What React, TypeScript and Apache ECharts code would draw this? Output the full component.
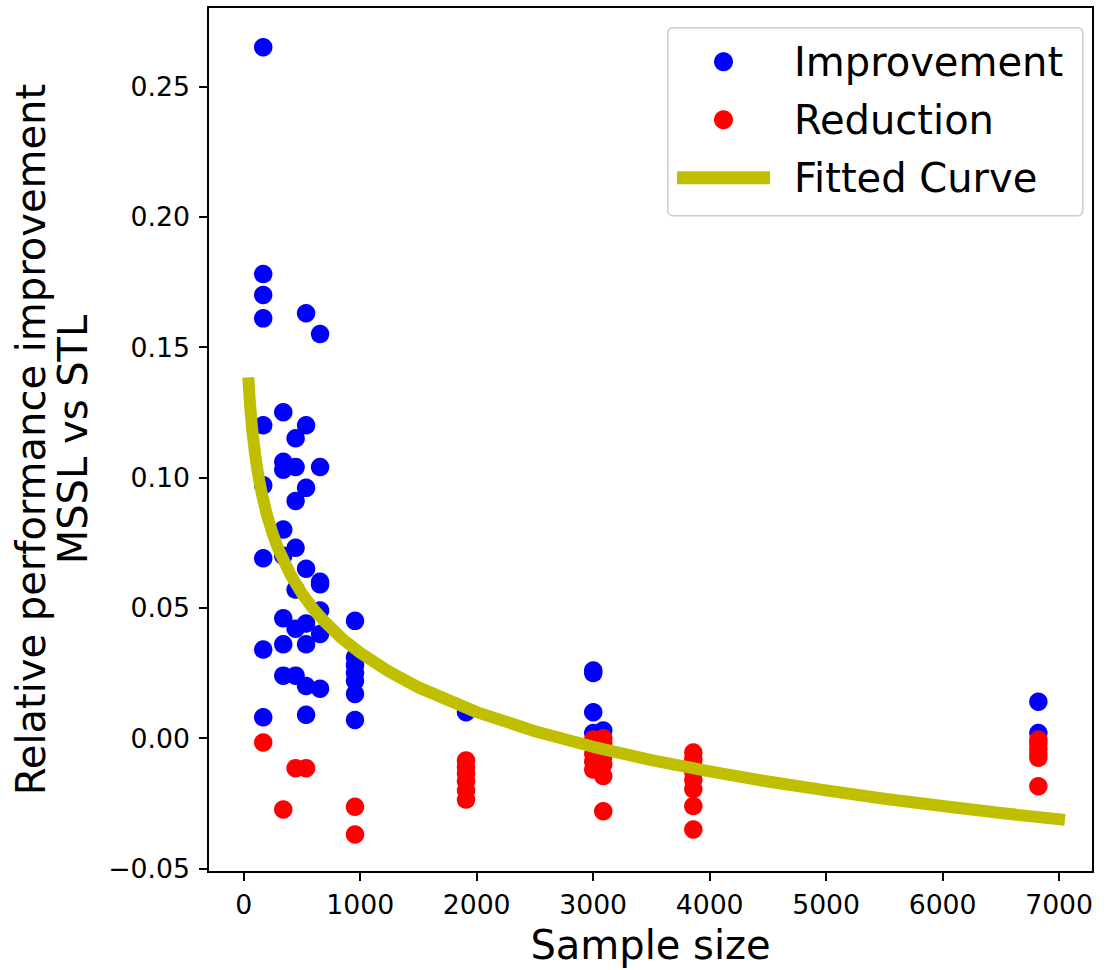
import { useEffect, useRef } from "react";
import * as echarts from "echarts";

// Scatter points: [sample size, relative improvement]
const improvement: [number, number][] = [
  [168, 0.265], [168, 0.178], [168, 0.17], [168, 0.161], [168, 0.12], [168, 0.097], [168, 0.069], [168, 0.034], [168, 0.008],
  [340, 0.125], [340, 0.106], [340, 0.103], [340, 0.08], [340, 0.07], [340, 0.046], [340, 0.036], [340, 0.024],
  [446, 0.115], [446, 0.104], [446, 0.091], [446, 0.073], [446, 0.057], [446, 0.042], [446, 0.024],
  [536, 0.163], [536, 0.12], [536, 0.096], [536, 0.065], [536, 0.044], [536, 0.036], [536, 0.02], [536, 0.009],
  [656, 0.155], [656, 0.104], [656, 0.06], [656, 0.059], [656, 0.049], [656, 0.04], [656, 0.019],
  [956, 0.045], [956, 0.031], [956, 0.028], [956, 0.025], [956, 0.022], [956, 0.017], [956, 0.007],
  [1909, 0.01],
  [3001, 0.026], [3001, 0.025], [3001, 0.01], [3001, 0.002],
  [3087, 0.003],
  [6822, 0.014], [6822, 0.002],
];

const reduction: [number, number][] = [
  [168, -0.0016],
  [340, -0.0273],
  [446, -0.0115],
  [536, -0.0115],
  [956, -0.0263], [956, -0.0369],
  [1909, -0.0085], [1909, -0.011], [1909, -0.0135], [1909, -0.0165], [1909, -0.02], [1909, -0.0235],
  [3001, -0.0005], [3001, -0.003], [3001, -0.006], [3001, -0.009], [3001, -0.012],
  [3087, 0.0], [3087, -0.002], [3087, -0.0045], [3087, -0.007], [3087, -0.01], [3087, -0.0145], [3087, -0.028],
  [3860, -0.0055], [3860, -0.008], [3860, -0.0105], [3860, -0.013], [3860, -0.016], [3860, -0.0195], [3860, -0.026], [3860, -0.035],
  [6822, -0.0005], [6822, -0.002], [6822, -0.004], [6822, -0.006], [6822, -0.0075], [6822, -0.0184],
];

// Fitted curve
const curveX = [40, 50, 60, 70, 80, 100, 120, 140, 160, 200, 250, 300, 400, 500, 600, 700, 850, 1000, 1250, 1500, 2000, 2500, 3000, 3500, 4000, 4500, 5000, 5500, 6000, 6500, 7050];
const curveY = [0.1384, 0.131, 0.1251, 0.12, 0.1157, 0.1084, 0.1024, 0.0973, 0.093, 0.0856, 0.0783, 0.0723, 0.0629, 0.0555, 0.0495, 0.0445, 0.038, 0.0328, 0.0255, 0.0195, 0.01, 0.0027, -0.0033, -0.0084, -0.0127, -0.0166, -0.02, -0.0232, -0.026, -0.0287, -0.0313];

const xTicks = [0, 1000, 2000, 3000, 4000, 5000, 6000, 7000];
const yTicks = [-0.05, 0, 0.05, 0.1, 0.15, 0.2, 0.25];

const FONT = "DejaVu Sans";

export default function App() {
  const ref = useRef<HTMLDivElement>(null);
  useEffect(() => {
    const chart = echarts.init(ref.current!, null, { renderer: "svg" });
    const curve = curveX.map((x, i) => [x, curveY[i]]);
    chart.setOption({
      animation: false,
      backgroundColor: "#ffffff",
      textStyle: { fontFamily: FONT, color: "#000" },
      grid: {
        left: 208,
        top: 7,
        right: 19,
        bottom: 94,
        show: true,
        borderColor: "#000",
        borderWidth: 2,
        backgroundColor: "transparent",
      },
      xAxis: {
        type: "value",
        min: -306,
        max: 7291,
        position: "bottom",
        name: "Sample size",
        nameLocation: "middle",
        nameGap: 53,
        nameTextStyle: { fontSize: 40, color: "#000", fontFamily: FONT, lineHeight: 40 },
        axisLine: { show: false, onZero: false },
        splitLine: { show: false },
        axisTick: { show: true, length: 9, lineStyle: { color: "#000", width: 2 }, customValues: xTicks },
        axisLabel: {
          customValues: xTicks,
          fontSize: 26.7,
          color: "#000",
          fontFamily: FONT,
          margin: 19,
          formatter: (v: number) => String(v),
        },
      },
      yAxis: {
        type: "value",
        min: -0.0513,
        max: 0.2804,
        position: "left",
        name: "Relative performance improvement\nMSSL vs STL",
        nameLocation: "middle",
        nameRotate: 90,
        nameGap: 114,
        nameTextStyle: { fontSize: 40, color: "#000", fontFamily: FONT, lineHeight: 42, align: "center" },
        axisLine: { show: false, onZero: false },
        splitLine: { show: false },
        axisTick: { show: true, length: 9, lineStyle: { color: "#000", width: 2 }, customValues: yTicks },
        axisLabel: {
          customValues: yTicks,
          fontSize: 26.7,
          color: "#000",
          fontFamily: FONT,
          margin: 18,
          formatter: (v: number) => (v < 0 ? "\u2212" + Math.abs(v).toFixed(2) : v.toFixed(2)),
        },
      },
      legend: {
        orient: "vertical",
        left: 677,
        top: 41.7,
        padding: 0,
        itemWidth: 93,
        itemHeight: 19,
        itemGap: 18,
        symbolKeepAspect: true,
        selectedMode: false,
        textStyle: { fontSize: 40, lineHeight: 40, color: "#000", fontFamily: FONT, padding: [0, 0, 0, 19] },
        data: [
          { name: "Improvement", icon: "circle" },
          { name: "Reduction", icon: "circle" },
          { name: "Fitted Curve", icon: "path://M0,0L93,0L93,13L0,13Z" },
        ],
      },
      graphic: [
        {
          type: "rect",
          left: 667,
          top: 27,
          z: 0,
          shape: { width: 415, height: 188, r: 5 },
          style: { fill: "rgba(255,255,255,0.8)", stroke: "#cccccc", lineWidth: 1.5 },
        },
      ],
      series: [
        {
          name: "Improvement",
          type: "scatter",
          data: improvement,
          symbol: "circle",
          symbolSize: 18.5,
          itemStyle: { color: "#0000ff", opacity: 1 },
          z: 2,
        },
        {
          name: "Reduction",
          type: "scatter",
          data: reduction,
          symbol: "circle",
          symbolSize: 18.5,
          itemStyle: { color: "#ff0000", opacity: 1 },
          z: 3,
        },
        {
          name: "Fitted Curve",
          type: "line",
          data: curve,
          showSymbol: false,
          symbol: "none",
          smooth: false,
          color: "#bfbf00",
          itemStyle: { color: "#bfbf00" },
          lineStyle: { color: "#bfbf00", width: 12, cap: "butt", join: "round" },
          z: 4,
        },
      ],
    });
    return () => chart.dispose();
  }, []);
  return (
    <div
      ref={ref}
      style={{ position: "fixed", left: 0, top: 0, width: 1112, height: 970, background: "#fff" }}
    />
  );
}
